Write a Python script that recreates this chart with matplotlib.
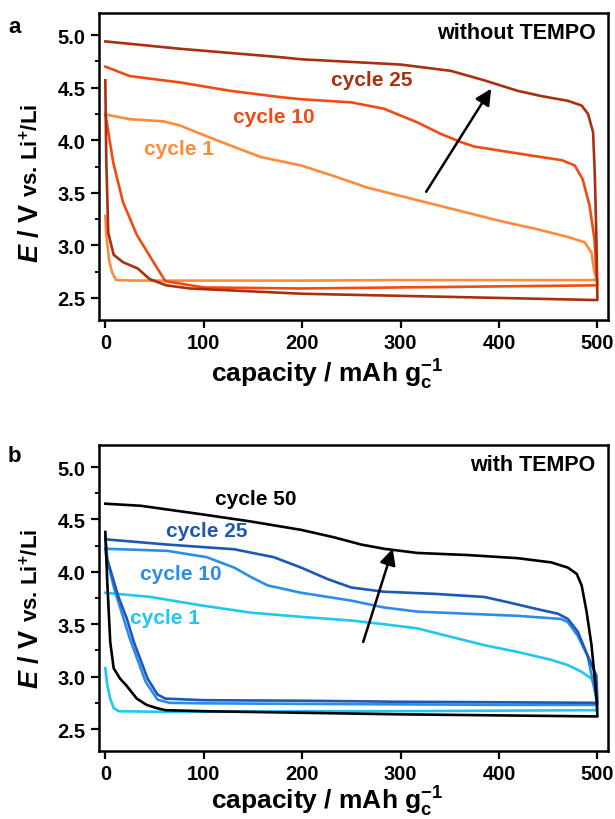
import matplotlib
matplotlib.use('Agg')
import matplotlib.pyplot as plt
from matplotlib.ticker import MultipleLocator

plt.rcParams['font.family'] = ['Liberation Sans', 'DejaVu Sans']
plt.rcParams['font.weight'] = 'bold'
plt.rcParams['mathtext.fontset'] = 'custom'
plt.rcParams['mathtext.rm'] = 'Liberation Sans:bold'
plt.rcParams['mathtext.bf'] = 'Liberation Sans:bold'
plt.rcParams['mathtext.it'] = 'Liberation Sans:italic:bold'

# ── Panel a: without TEMPO ───────────────────────────────────
cap_a1_dis = [0, 1, 4, 7, 11, 30, 100, 200, 300, 400, 500]
E_a1_dis   = [3.28, 3.10, 2.85, 2.74, 2.67, 2.665, 2.665, 2.665, 2.67, 2.67, 2.67]
cap_a1_ch  = [0, 25, 59, 76, 93, 127, 158, 199, 232, 266, 300, 334, 368, 402, 436, 470, 487, 494, 497, 500]
E_a1_ch    = [4.245, 4.20, 4.18, 4.14, 4.075, 3.95, 3.84, 3.76, 3.66, 3.55, 3.47, 3.39, 3.31, 3.23, 3.16, 3.08, 3.03, 2.93, 2.74, 2.67]

cap_a10_dis = [0, 1, 8, 18, 32, 49, 61, 100, 200, 300, 400, 500]
E_a10_dis   = [4.25, 4.20, 3.79, 3.41, 3.10, 2.84, 2.66, 2.60, 2.59, 2.60, 2.61, 2.62]
cap_a10_ch  = [0, 25, 76, 127, 178, 199, 250, 283, 317, 341, 362, 375, 402, 436, 464, 477, 485, 492, 497, 499, 500]
E_a10_ch    = [4.70, 4.61, 4.55, 4.47, 4.41, 4.39, 4.36, 4.30, 4.17, 4.06, 3.98, 3.94, 3.90, 3.85, 3.81, 3.76, 3.63, 3.38, 3.06, 2.74, 2.62]

cap_a25_dis = [0, 1, 3, 8.5, 18, 33, 45, 62, 86, 200, 300, 400, 500]
E_a25_dis   = [4.57, 3.80, 3.12, 2.91, 2.84, 2.78, 2.68, 2.62, 2.59, 2.54, 2.52, 2.50, 2.48]
cap_a25_ch  = [0, 76, 178, 199, 300, 351, 385, 419, 443, 470, 484, 490.5, 495.6, 497.3, 499, 500]
E_a25_ch    = [4.94, 4.87, 4.79, 4.77, 4.72, 4.66, 4.57, 4.47, 4.42, 4.375, 4.33, 4.25, 4.075, 3.69, 3.06, 2.48]

# ── Panel b: with TEMPO ──────────────────────────────────────
cap_b1_dis = [0, 2, 5, 8.5, 13.5, 50, 100, 200, 300, 400, 500]
E_b1_dis   = [3.08, 2.92, 2.79, 2.70, 2.67, 2.665, 2.665, 2.67, 2.67, 2.675, 2.68]
cap_b1_ch  = [0, 46, 97, 148, 199, 250, 283, 317, 351, 385, 419, 453, 470, 484, 494, 499, 500]
E_b1_ch    = [3.80, 3.76, 3.68, 3.61, 3.57, 3.535, 3.50, 3.46, 3.38, 3.30, 3.235, 3.16, 3.11, 3.045, 2.98, 2.86, 2.68]

cap_b10_dis = [0, 1, 9, 25, 41, 53, 65, 100, 200, 300, 400, 500]
E_b10_dis   = [4.22, 4.15, 3.84, 3.36, 2.95, 2.78, 2.75, 2.745, 2.74, 2.735, 2.73, 2.73]
cap_b10_ch  = [0, 63, 103, 131, 148, 165, 199, 250, 283, 317, 368, 419, 463, 470, 480, 490, 500]
E_b10_ch    = [4.22, 4.20, 4.14, 4.04, 3.95, 3.87, 3.80, 3.725, 3.66, 3.62, 3.60, 3.58, 3.55, 3.52, 3.39, 3.20, 2.74]

cap_b25_dis = [0, 2, 13, 22, 29, 43, 53, 61, 100, 200, 300, 400, 500]
E_b25_dis   = [4.34, 4.12, 3.77, 3.55, 3.33, 2.98, 2.83, 2.79, 2.775, 2.77, 2.76, 2.755, 2.75]
cap_b25_ch  = [0, 63, 131, 171, 199, 226, 250, 283, 334, 385, 409, 436, 460, 470, 480, 490, 499, 500]
E_b25_ch    = [4.31, 4.26, 4.215, 4.14, 4.04, 3.93, 3.85, 3.81, 3.79, 3.76, 3.71, 3.65, 3.60, 3.55, 3.43, 3.20, 3.01, 2.76]

cap_b50_dis = [0, 2, 5, 8.5, 15, 21, 32, 42, 52, 61, 100, 300, 500]
E_b50_dis   = [4.38, 3.90, 3.33, 3.08, 2.98, 2.92, 2.79, 2.73, 2.70, 2.68, 2.67, 2.64, 2.62]
cap_b50_ch  = [0, 36, 97, 148, 199, 232, 260, 283, 317, 368, 419, 453, 470, 479, 484, 489, 494, 497, 499, 500]
E_b50_ch    = [4.65, 4.63, 4.55, 4.48, 4.40, 4.33, 4.26, 4.22, 4.18, 4.16, 4.13, 4.09, 4.04, 3.98, 3.87, 3.62, 3.30, 3.01, 2.80, 2.62]

cycles_a = ['cycle 1', 'cycle 10', 'cycle 25']
cycles_b = ['cycle 1', 'cycle 10', 'cycle 25', 'cycle 50']
colors_a = ['#FF8A3A', '#F24A12', '#A8300E']
colors_b = ['#1EC8F0', '#2C8DE6', '#1C58B4', '#000000']


def loop(cd, ed, cc, ec):
    # discharge 0 -> 500, then charge back 500 -> 0
    return list(cd) + list(cc[::-1]), list(ed) + list(ec[::-1])


series_a = [loop(cap_a1_dis, E_a1_dis, cap_a1_ch, E_a1_ch),
            loop(cap_a10_dis, E_a10_dis, cap_a10_ch, E_a10_ch),
            loop(cap_a25_dis, E_a25_dis, cap_a25_ch, E_a25_ch)]
series_b = [loop(cap_b1_dis, E_b1_dis, cap_b1_ch, E_b1_ch),
            loop(cap_b10_dis, E_b10_dis, cap_b10_ch, E_b10_ch),
            loop(cap_b25_dis, E_b25_dis, cap_b25_ch, E_b25_ch),
            loop(cap_b50_dis, E_b50_dis, cap_b50_ch, E_b50_ch)]

# label positions (data coords)
lab_a = [(75, 3.92), (171, 4.23), (271, 4.58)]
lab_b = [(61, 3.56), (77, 3.98), (103, 4.39), (153, 4.70)]
arrow_a = ((326, 3.51), (392, 4.49))
arrow_b = ((262, 3.33), (292, 4.22))

fig = plt.figure(figsize=(6.15, 8.2), dpi=100)
ax_a = fig.add_axes([0.161, 0.6085, 0.828, 0.3744])
ax_b = fig.add_axes([0.161, 0.0829, 0.828, 0.3732])


def style(ax, xlab_y):
    ax.set_xlim(-6.4, 511)
    ax.set_ylim(2.29, 5.21)
    ax.xaxis.set_major_locator(MultipleLocator(100))
    ax.yaxis.set_major_locator(MultipleLocator(0.5))
    ax.yaxis.set_minor_locator(MultipleLocator(0.25))
    ax.yaxis.set_major_formatter(plt.FormatStrFormatter('%.1f'))
    for s in ax.spines.values():
        s.set_linewidth(1.8)
    ax.tick_params(which='major', direction='out', length=5.5, width=1.6,
                   labelsize=14.5, pad=4, top=False, right=False)
    ax.tick_params(which='minor', direction='out', length=3, width=1.4,
                   top=False, right=False)
    ax.tick_params(axis='x', which='minor', bottom=False)
    for lbl in ax.get_xticklabels() + ax.get_yticklabels():
        lbl.set_fontweight('bold')
    ax.set_xlabel(r'capacity / mAh g$_{\mathrm{c}}^{-1}$', fontsize=19, fontweight='bold')
    ax.xaxis.set_label_coords(0.448, xlab_y)
    ax.xaxis.label.set_va('center')


def ylabel(ax, xpos, ycenter):
    t1 = ax.text(xpos, 0, r'$\mathit{E}$ / V', transform=ax.transAxes, rotation=90,
                 rotation_mode='anchor', ha='left', va='baseline', fontsize=19.5, fontweight='bold')
    t2 = ax.text(xpos, 0, r' vs. Li$^{+}$/Li', transform=ax.transAxes, rotation=90,
                 rotation_mode='anchor', ha='left', va='baseline', fontsize=16, fontweight='bold')
    fig.canvas.draw()
    inv = ax.transAxes.inverted()
    h1 = t1.get_window_extent().transformed(inv).height
    h2 = t2.get_window_extent().transformed(inv).height
    y0 = ycenter - (h1 + h2) / 2
    t1.set_position((xpos, y0))
    t2.set_position((xpos, y0 + h1))


for ax, series, colors, cyc, labs, arr, title, xly in [
        (ax_a, series_a, colors_a, cycles_a, lab_a, arrow_a, 'without TEMPO', -0.176),
        (ax_b, series_b, colors_b, cycles_b, lab_b, arrow_b, 'with TEMPO', -0.163)]:
    for (cx, ey), c in zip(series, colors):
        ax.plot(cx, ey, color=c, lw=1.9, solid_joinstyle='round')
    for (lx, ly), c, name in zip(labs, colors, cyc):
        ax.text(lx, ly, name, color=c, fontsize=15, fontweight='bold', ha='center', va='center')
    ax.annotate('', xy=arr[1], xytext=arr[0],
                arrowprops=dict(arrowstyle='-|>', color='black', lw=1.8, mutation_scale=24,
                                shrinkA=0, shrinkB=0))
    ax.text(0.975, 0.937, title, transform=ax.transAxes, ha='right', va='center',
            fontsize=15.5, fontweight='bold')
    style(ax, xly)

ylabel(ax_a, -0.12, 0.448)
ylabel(ax_b, -0.12, 0.467)

fig.text(0.024, 0.967, 'a', fontsize=16, fontweight='bold', ha='center', va='center')
fig.text(0.024, 0.443, 'b', fontsize=16, fontweight='bold', ha='center', va='center')

plt.savefig('out.png', dpi=100, facecolor='white')
plt.close()
